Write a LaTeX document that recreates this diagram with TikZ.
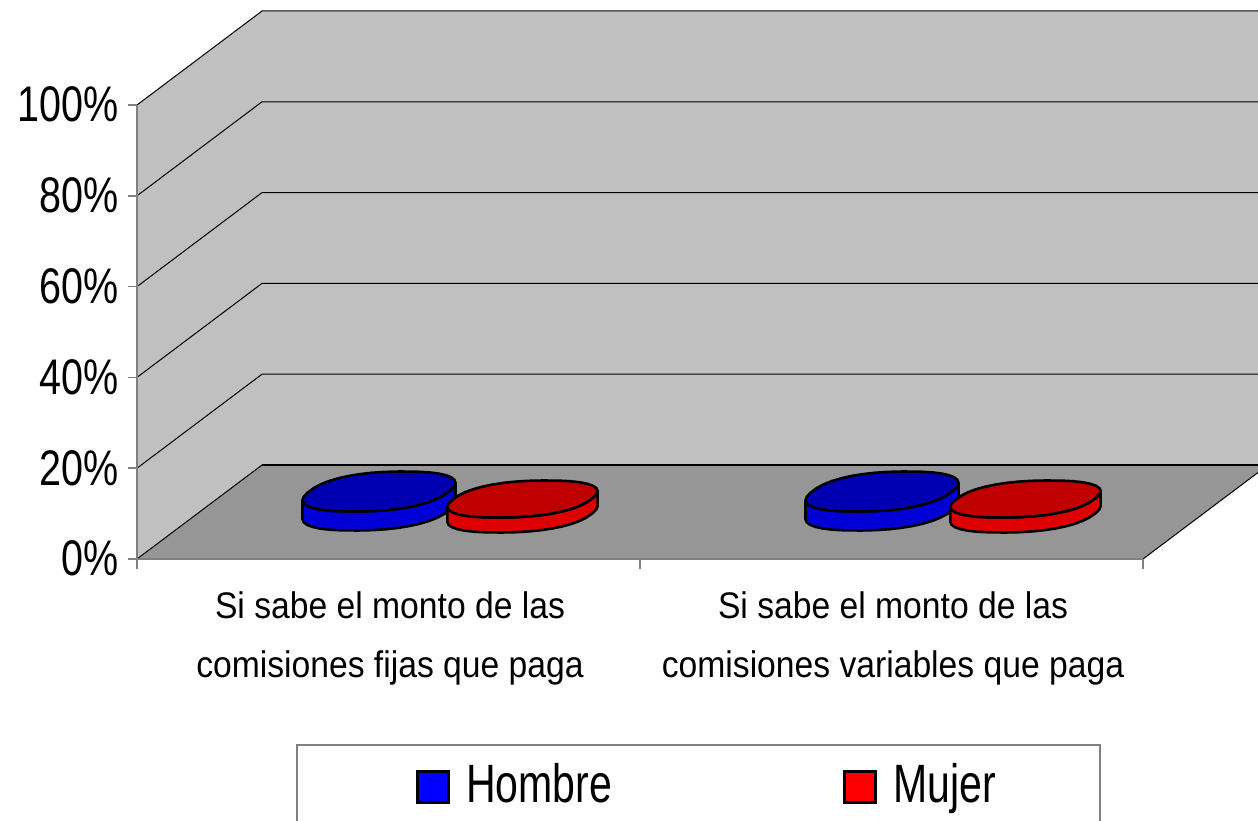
\documentclass[tikz,border=0pt]{standalone}
\usepackage{fontspec}
\setmainfont{Liberation Sans}
\newfontfamily\tickfont[FakeStretch=0.79]{Liberation Sans}
\newfontfamily\catfont[FakeStretch=0.91]{Liberation Sans}
\newfontfamily\legfont[FakeStretch=0.76]{Liberation Sans}
\definecolor{wallgray}{RGB}{192,192,192}
\definecolor{floorgray}{RGB}{150,150,150}
\definecolor{axisgray}{RGB}{128,128,128}
\definecolor{bluetop}{RGB}{0,0,178}
\definecolor{blueside}{RGB}{0,0,255}
\definecolor{bluesidedark}{RGB}{0,0,215}
\definecolor{redtop}{RGB}{192,0,0}
\definecolor{redside}{RGB}{255,0,0}
\definecolor{redsidedark}{RGB}{222,0,0}
\tikzset{
  gridline/.style={black, line width=1pt},
  axisline/.style={axisgray, line width=1.6pt},
  ticklabel/.style={inner sep=0pt, anchor=base east, font=\tickfont\fontsize{50}{60}\selectfont},
  catlabel/.style={inner sep=0pt, anchor=base, font=\catfont\fontsize{37}{44}\selectfont},
  leglabel/.style={inner sep=0pt, anchor=base west, font=\legfont\fontsize{54}{64}\selectfont},
  legsq/.style={draw=black, line width=3pt, minimum width=31pt, minimum height=31pt, inner sep=0pt},
  diskedge/.style={draw=black, line width=2.6pt, line join=round}
}
% rounded disk in oblique view
% #1 cx, #2 cy (top centre), #3 A, #4 B, #5 C, #6 thickness, #7 top, #8 side, #9 side dark
\newcommand\mydisk[9]{%
  \pgfmathsetmacro\tr{atan((#4/#3)^0.87)}%
  \pgfmathsetmacro\ta{\tr+180}%
  \pgfmathsetmacro\tb{\tr+360}%
  \pgfmathsetmacro\tc{\tr+540}%
  \shadedraw[diskedge, left color=#9, middle color=#8, right color=#9]
    plot[domain=\ta:\tb, samples=19]
      ({#1+#3*cos(\x)*(abs(cos(\x))+0.001)^(-0.15)+#4*sin(\x)*(abs(sin(\x))+0.001)^(-0.15)},
       {#2-#6+#5*sin(\x)*(abs(sin(\x))+0.001)^(-0.15)})
    -- plot[domain=\tb:\ta, samples=19]
      ({#1+#3*cos(\x)*(abs(cos(\x))+0.001)^(-0.15)+#4*sin(\x)*(abs(sin(\x))+0.001)^(-0.15)},
       {#2+#5*sin(\x)*(abs(sin(\x))+0.001)^(-0.15)})
    -- cycle;
  \filldraw[diskedge, fill=#7]
    plot[domain=\ta:\tc, samples=37]
      ({#1+#3*cos(\x)*(abs(cos(\x))+0.001)^(-0.15)+#4*sin(\x)*(abs(sin(\x))+0.001)^(-0.15)},
       {#2+#5*sin(\x)*(abs(sin(\x))+0.001)^(-0.15)})
    -- cycle;
}
\begin{document}
\begin{tikzpicture}[x=1pt,y=1pt]
\useasboundingbox (0,0) rectangle (1258,820);
\clip (0,0) rectangle (1258,820);
% walls and floor
\fill[wallgray] (137,261) -- (262,355) -- (262,809) -- (137,715) -- cycle;
\fill[wallgray] (262,355) rectangle (1268,809);
\fill[floorgray] (137,261) -- (262,355) -- (1268,355) -- (1143,261) -- cycle;
% grid lines
\foreach \k in {1,...,5} {
  \pgfmathsetmacro\yf{261+90.8*\k}
  \draw[gridline] (137,\yf) -- (262,\yf+94) -- (1268,\yf+94);
}
\draw[gridline] (137,261) -- (262,355);
\draw[black, line width=2.4pt] (262,355) -- (1268,355);
\draw[gridline] (1143,261) -- (1268,355);
% axes
\draw[axisline] (137,715) -- (137,252);
\draw[axisline] (137,261) -- (1143,261);
\foreach \k in {0,...,5} {
  \pgfmathsetmacro\yf{261+90.8*\k}
  \draw[axisline] (128,\yf) -- (137,\yf);
}
\foreach \xx in {137,640,1143} { \draw[axisline] (\xx,261) -- (\xx,251); }
% tick labels
\node[ticklabel] (t0) at (119,261-17) {0\%};
\node[ticklabel] (t20) at (119,351.8-17) {20\%};
\node[ticklabel] (t40) at (119,442.6-17) {40\%};
\node[ticklabel] (t60) at (119,533.4-17) {60\%};
\node[ticklabel] (t80) at (119,624.2-17) {80\%};
\node[ticklabel] (t100) at (119,715-17) {100\%};
% disks
\mydisk{379}{328.5}{70}{25}{20}{19}{bluetop}{blueside}{bluesidedark}
\mydisk{522.5}{321}{69}{24}{18.5}{15}{redtop}{redside}{redsidedark}
\mydisk{882}{328.5}{70}{25}{20}{19}{bluetop}{blueside}{bluesidedark}
\mydisk{1025.5}{321}{69}{24}{18.5}{15}{redtop}{redside}{redsidedark}
% category labels
\node[catlabel] (c1a) at (390,202) {Si sabe el monto de las};
\node[catlabel] (c1b) at (390,143) {comisiones fijas que paga};
\node[catlabel] (c2a) at (893,202) {Si sabe el monto de las};
\node[catlabel] (c2b) at (893,143) {comisiones variables que paga};
% legend
\draw[axisgray, line width=2pt] (297,-10) rectangle (1100,75);
\node[legsq, fill=blue] (hsq) at (432.5,33.5) {};
\node[leglabel] (hlab) at (466,18) {Hombre};
\node[legsq, fill=red] (msq) at (859.5,33.5) {};
\node[leglabel] (mlab) at (893,18) {Mujer};
\end{tikzpicture}
\end{document}
